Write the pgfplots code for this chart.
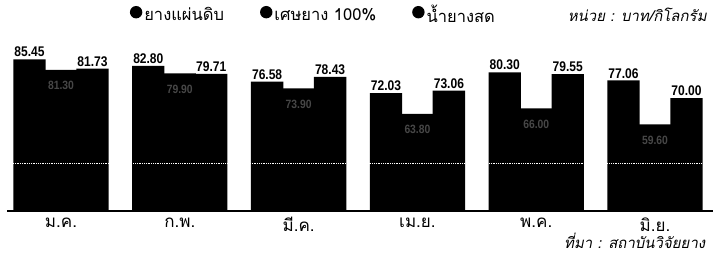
\documentclass[border=0pt]{standalone}
\usepackage{pgfplots}
\pgfplotsset{compat=1.18}
\usepackage{fontspec}
\setmainfont{Liberation Sans}
\newfontfamily\numfont{Liberation Sans}[FakeStretch=0.86]
\newfontfamily\thai{Loma}[Script=Thai, AutoFakeSlant=0.2]
\begin{document}
\begin{tikzpicture}
\begin{axis}[name=ax, scale only axis, width=706bp, height=181bp,
  xmin=-0.4545, xmax=5.488, ymin=25.25, ymax=97.08,
  clip=false,
  axis x line=bottom, axis y line=none,
  x axis line style={-, line width=1.5bp},
  ybar, bar width=0.272,
  xtick={0,1,2,3,4,5},
  xticklabels={ม.ค., ก.พ., มี.ค., เม.ย., พ.ค., มิ.ย.},
  xticklabel style={font=\thai\fontsize{17bp}{17bp}\selectfont, yshift=-3bp},
  major tick length=0pt, ytick=\empty,
  legend style={at={(0.434,1.083)}, anchor=center, draw=none, fill=none,
    font=\thai\fontsize{16.5bp}{16.5bp}\selectfont,
    /tikz/every even column/.append style={column sep=34bp}},
  legend columns=3,
]
\addplot[fill=black, draw=none, bar shift=-0.265,
  legend image code/.code={\fill[black] (0.45em,0.28em) circle (6.2bp);},
  nodes near coords={\pgfmathprintnumber[fixed,fixed zerofill,precision=2,assume math mode=true]{\pgfplotspointmeta}},
  nodes near coords style={font=\numfont\bfseries\fontsize{14bp}{14bp}\selectfont, text=black, inner sep=2bp}]
  coordinates {(0,85.45) (1,82.80) (2,76.58) (3,72.03) (4,80.30) (5,77.06)};
\addlegendentry{ยางแผ่นดิบ}
\addplot[fill=black, draw=none, bar shift=0,
  legend image code/.code={\fill[black] (0.45em,0.28em) circle (6.2bp);},
  nodes near coords={\pgfmathprintnumber[fixed,fixed zerofill,precision=2,assume math mode=true]{\pgfplotspointmeta}},
  nodes near coords style={font=\numfont\bfseries\fontsize{12bp}{12bp}\selectfont, text=black!72, anchor=north, yshift=-8bp}]
  coordinates {(0,81.30) (1,79.90) (2,73.90) (3,63.80) (4,66.00) (5,59.60)};
\addlegendentry{เศษยาง 100\%}
\addplot[fill=black, draw=none, bar shift=0.265,
  legend image code/.code={\fill[black] (0.45em,0.28em) circle (6.2bp);},
  nodes near coords={\pgfmathprintnumber[fixed,fixed zerofill,precision=2,assume math mode=true]{\pgfplotspointmeta}},
  nodes near coords style={font=\numfont\bfseries\fontsize{14bp}{14bp}\selectfont, text=black, inner sep=2bp}]
  coordinates {(0,81.73) (1,79.71) (2,78.43) (3,73.06) (4,79.55) (5,70.00)};
\addlegendentry{น้ำยางสด}
\draw[white, densely dotted, line width=0.8bp] (axis cs:-0.45,44) -- (axis cs:5.48,44);
\node[anchor=east, font=\thai\itshape\fontsize{15bp}{15bp}\selectfont] at (rel axis cs:0.996,1.083) {หน่วย : บาท/กิโลกรัม};
\node[anchor=east, font=\thai\itshape\fontsize{15bp}{15bp}\selectfont] at (rel axis cs:0.994,-0.165) {ที่มา : สถาบันวิจัยยาง};
\end{axis}
\pgfresetboundingbox
\path[use as bounding box] ([xshift=-7bp,yshift=-43bp]ax.south west) rectangle ([yshift=30bp]ax.north east);
\end{tikzpicture}
\end{document}
